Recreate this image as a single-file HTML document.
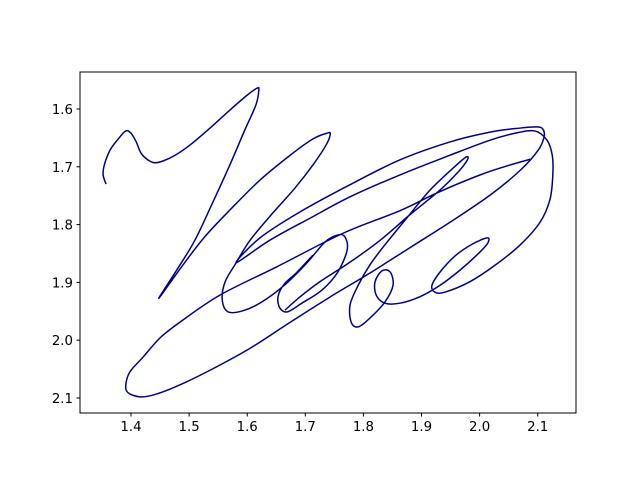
<!DOCTYPE html>
<html><head><meta charset="utf-8"><style>
html,body{margin:0;padding:0;background:#fff;}
svg{display:block;font-family:"DejaVu Sans","Liberation Sans",sans-serif;}
</style></head><body>
<svg id="chart" width="640" height="480" viewBox="0 0 640 480">
<rect x="0" y="0" width="640" height="480" fill="#fff"/>
<g id="plot"></g>
<rect x="80" y="72" width="496" height="341" fill="none" stroke="#000" stroke-width="1"/>
<g id="xt"></g><g id="yt"></g>
</svg>
<script>
const xTicks=[1.4,1.5,1.6,1.7,1.8,1.9,2.0,2.1];
const xTickLabels=["1.4","1.5","1.6","1.7","1.8","1.9","2.0","2.1"];
const yTicks=[1.6,1.7,1.8,1.9,2.0,2.1];
const yTickLabels=["1.6","1.7","1.8","1.9","2.0","2.1"];
const stroke1X=[1.357,1.352,1.354,1.364,1.378,1.391,1.400,1.409,1.417,1.429,1.441,1.455,1.476,1.502,1.536,1.570,1.600,1.617,1.620,1.615,1.596,1.570,1.541,1.510,1.481,1.448,1.467,1.493,1.527,1.570,1.622,1.674,1.713,1.737,1.743,1.736,1.713,1.682,1.644,1.605,1.581,1.562,1.557,1.567,1.593,1.625,1.665,1.703,1.734,1.756,1.768,1.772,1.756,1.729,1.694,1.669,1.656,1.653,1.663,1.686,1.713];
const stroke1Y=[1.730,1.714,1.697,1.671,1.652,1.638,1.642,1.657,1.676,1.688,1.693,1.690,1.680,1.662,1.633,1.602,1.576,1.564,1.567,1.593,1.636,1.697,1.761,1.827,1.875,1.927,1.901,1.865,1.821,1.775,1.723,1.680,1.652,1.642,1.643,1.662,1.697,1.737,1.780,1.827,1.866,1.899,1.930,1.951,1.949,1.934,1.904,1.866,1.830,1.818,1.821,1.844,1.882,1.913,1.936,1.951,1.944,1.925,1.904,1.882,1.853];
const stroke2X=[2.087,2.052,2.001,1.927,1.863,1.765,1.651,1.553,1.484,1.450,1.421,1.398,1.391,1.395,1.415,1.438,1.476,1.536,1.605,1.674,1.743,1.811,1.880,1.949,2.018,2.070,2.101,2.111,2.109,2.099,2.070,2.018,1.949,1.863,1.777,1.691,1.622,1.581,1.639,1.708,1.777,1.863,1.949,2.018,2.061,2.095,2.116,2.125,2.126,2.121,2.104,2.070,2.027,1.983,1.940,1.923,1.918,1.932,1.958,1.987,2.013,2.014,1.997,1.966,1.932,1.897,1.863,1.837,1.822,1.820,1.832,1.846,1.851,1.837,1.811,1.791,1.779,1.777,1.791,1.811,1.837,1.872,1.915,1.958,1.977,1.979,1.963,1.932,1.880,1.829,1.777,1.725,1.691,1.665];
const stroke2Y=[1.687,1.697,1.714,1.745,1.776,1.815,1.873,1.922,1.969,1.996,2.029,2.055,2.078,2.091,2.098,2.095,2.081,2.052,2.014,1.969,1.925,1.884,1.840,1.796,1.749,1.706,1.671,1.648,1.635,1.631,1.633,1.640,1.657,1.688,1.731,1.778,1.823,1.866,1.827,1.789,1.752,1.714,1.680,1.654,1.642,1.638,1.654,1.680,1.714,1.757,1.796,1.835,1.870,1.899,1.917,1.917,1.905,1.882,1.854,1.834,1.823,1.832,1.851,1.879,1.905,1.925,1.936,1.936,1.922,1.899,1.880,1.882,1.905,1.934,1.962,1.977,1.969,1.939,1.905,1.870,1.835,1.792,1.740,1.699,1.683,1.688,1.709,1.740,1.783,1.827,1.865,1.899,1.925,1.948];

const L=80,R=576,T=72,B=413;
const X0=1.3122,X1=2.1659,Y0=1.536,Y1=2.126;
function sx(v){return L+(v-X0)/(X1-X0)*(R-L);}
function sy(v){return T+(v-Y0)/(Y1-Y0)*(B-T);}
const NS="http://www.w3.org/2000/svg";
function pathFrom(xs,ys){
  const p=xs.map((x,i)=>[sx(x),sy(ys[i])]);
  let d="M"+p[0][0].toFixed(2)+","+p[0][1].toFixed(2);
  for(let i=0;i<p.length-1;i++){
    const p0=p[Math.max(0,i-1)],p1=p[i],p2=p[i+1],p3=p[Math.min(p.length-1,i+2)];
    const c1=[p1[0]+(p2[0]-p0[0])/6,p1[1]+(p2[1]-p0[1])/6];
    const c2=[p2[0]-(p3[0]-p1[0])/6,p2[1]-(p3[1]-p1[1])/6];
    d+="C"+c1.map(v=>v.toFixed(2)).join(",")+" "+c2.map(v=>v.toFixed(2)).join(",")+" "+p2.map(v=>v.toFixed(2)).join(",");
  }
  return d;
}
const plot=document.getElementById('plot');
[[stroke1X,stroke1Y],[stroke2X,stroke2Y]].forEach((s,k)=>{
  const el=document.createElementNS(NS,'path');
  el.setAttribute('d',pathFrom(s[0],s[1]));
  el.setAttribute('fill','none');el.setAttribute('stroke','#00008b');
  el.setAttribute('stroke-width','1.5');el.setAttribute('stroke-linejoin','round');
  
  
  plot.appendChild(el);
});
const xt=document.getElementById('xt');
xTicks.forEach((v,i)=>{
  const x=sx(v);
  const ln=document.createElementNS(NS,'line');
  ln.setAttribute('x1',x);ln.setAttribute('x2',x);ln.setAttribute('y1',B);ln.setAttribute('y2',B+3.5);
  ln.setAttribute('stroke','#000');
  
  
  xt.appendChild(ln);
  const t=document.createElementNS(NS,'text');
  t.setAttribute('x',x);t.setAttribute('y',B+18);t.setAttribute('text-anchor','middle');t.setAttribute('font-size','13.3');
  t.textContent=xTickLabels[i];
  
  
  xt.appendChild(t);
});
const yt=document.getElementById('yt');
yTicks.forEach((v,i)=>{
  const y=sy(v);
  const ln=document.createElementNS(NS,'line');
  ln.setAttribute('x1',L-3.5);ln.setAttribute('x2',L);ln.setAttribute('y1',y);ln.setAttribute('y2',y);
  ln.setAttribute('stroke','#000');
  
  
  yt.appendChild(ln);
  const t=document.createElementNS(NS,'text');
  t.setAttribute('x',L-7);t.setAttribute('y',y+5);t.setAttribute('text-anchor','end');t.setAttribute('font-size','13.3');
  t.textContent=yTickLabels[i];
  
  
  yt.appendChild(t);
});
</script>
</body></html>
